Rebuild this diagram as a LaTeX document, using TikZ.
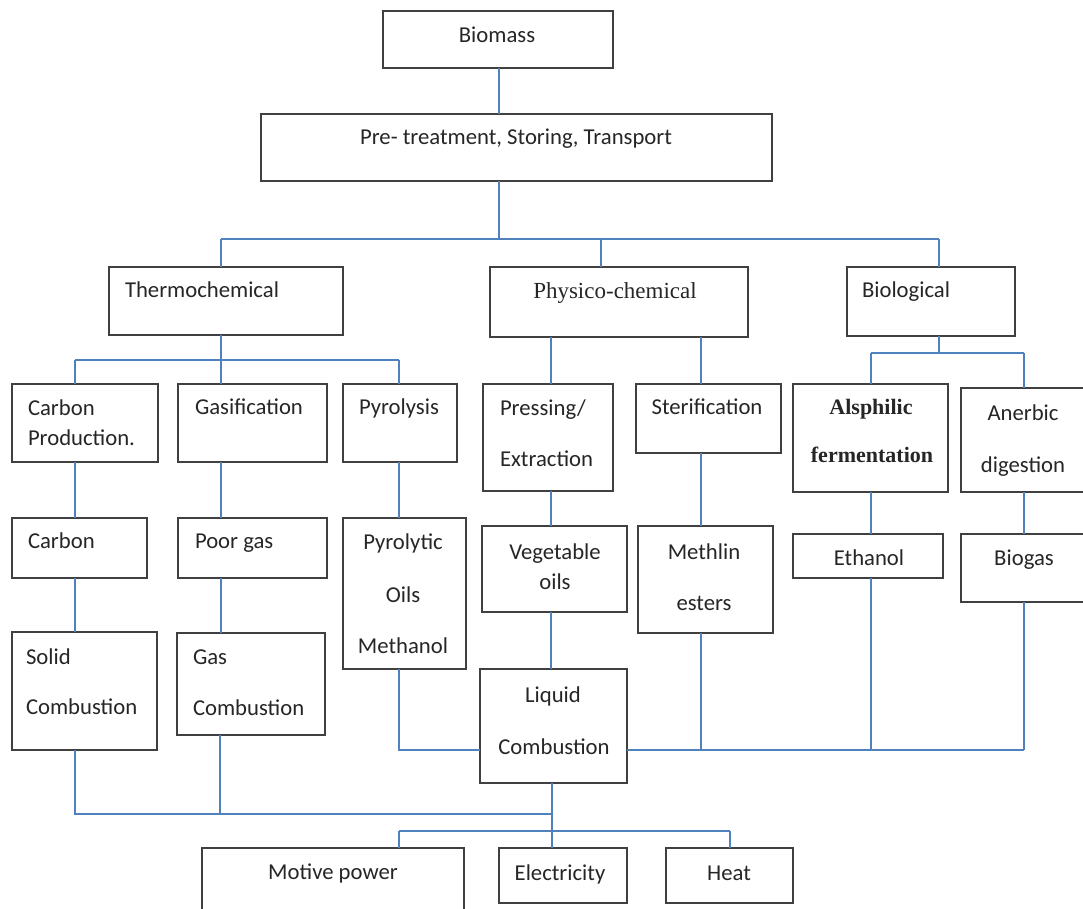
\documentclass[tikz,border=0pt]{standalone}
\usepackage{fontspec}
\setmainfont{Carlito}
\newfontfamily\tnr{Liberation Serif}
\usetikzlibrary{fit}
\definecolor{conn}{RGB}{79,129,189}
\definecolor{boxc}{RGB}{64,64,64}
\definecolor{txtc}{RGB}{38,38,38}
\tikzset{
  box/.style={draw=boxc, line width=1.6pt, inner sep=0pt, outer sep=0pt, fill=white},
  txt/.style={inner sep=0pt, outer sep=0pt, text=txtc, font=\fontsize{22.7}{27}\selectfont},
  ser/.style={inner sep=0pt, outer sep=0pt, text=txtc, font=\fontsize{23}{27}\selectfont\tnr},
  serb/.style={inner sep=0pt, outer sep=0pt, text=txtc, font=\fontsize{22}{27}\selectfont\tnr\bfseries},
  link/.style={draw=conn, line width=1.5pt},
}
\begin{document}
\begin{tikzpicture}[x=1pt,y=-1pt]
\clip (0,0) rectangle (1083,909);
\fill[white] (0,0) rectangle (1083,909);
% boxes
\node[box, fit={(383,11) (613,68)}] (bio) {};
\node[box, fit={(261,114) (772,181)}] (pre) {};
\node[box, fit={(109,267) (343,335)}] (thermo) {};
\node[box, fit={(490,267) (748,337)}] (phys) {};
\node[box, fit={(847,267) (1015,336)}] (biol) {};
\node[box, fit={(12,384) (158,462)}] (carbprod) {};
\node[box, fit={(178,384) (327,462)}] (gasif) {};
\node[box, fit={(343,384) (457,462)}] (pyro) {};
\node[box, fit={(483,384) (613,491)}] (press) {};
\node[box, fit={(636,384) (781,453)}] (ster) {};
\node[box, fit={(793,384) (948,492)}] (alsph) {};
\node[box, fit={(961,388) (1095,492)}] (anerb) {};
\node[box, fit={(12,518) (147,578)}] (carbon) {};
\node[box, fit={(178,518) (327,578)}] (poorgas) {};
\node[box, fit={(343,518) (466,669)}] (pyrol) {};
\node[box, fit={(482,526) (627,612)}] (veg) {};
\node[box, fit={(638,526) (773,633)}] (meth) {};
\node[box, fit={(793,534) (943,578)}] (eth) {};
\node[box, fit={(961,534) (1095,602)}] (biogas) {};
\node[box, fit={(12,632) (157,750)}] (solid) {};
\node[box, fit={(177,633) (325,735)}] (gascomb) {};
\node[box, fit={(480,669) (627,783)}] (liquid) {};
\node[box, fit={(202,848) (464,930)}] (motive) {};
\node[box, fit={(499,848) (627,903)}] (elec) {};
\node[box, fit={(666,848) (793,903)}] (heat) {};
% junction coordinates
\coordinate (b1l) at (221,239);
\coordinate (b1m) at (601,239);
\coordinate (b1c) at (499,239);
\coordinate (b1r) at (939,239);
\coordinate (b2l) at (75,360);
\coordinate (b2m) at (221,360);
\coordinate (b2r) at (399,360);
\coordinate (b3l) at (871,353);
\coordinate (b3m) at (939,353);
\coordinate (b3r) at (1024,353);
\coordinate (c551) at (551,400);
\coordinate (c701) at (701,400);
\coordinate (b4a) at (399,750);
\coordinate (b4b) at (701,750);
\coordinate (b4c) at (871,750);
\coordinate (b4d) at (1024,750);
\coordinate (b5l) at (75,814);
\coordinate (b5m) at (220,814);
\coordinate (b5r) at (552,814);
\coordinate (b6l) at (399,831);
\coordinate (b6r) at (730,831);
% connectors
\draw[link] (bio.south -| b1c) -- (pre.north -| b1c);
\draw[link] (pre.south -| b1c) -- (b1c);
\draw[link] (b1l) -- (b1r);
\draw[link] (b1l) -- (thermo.north -| b1l);
\draw[link] (b1m) -- (phys.north -| b1m);
\draw[link] (b1r) -- (biol.north -| b1r);
\draw[link] (thermo.south -| b2m) -- (b2m);
\draw[link] (b2l) -- (b2r);
\draw[link] (b2l) -- (carbprod.north -| b2l);
\draw[link] (b2m) -- (gasif.north -| b2m);
\draw[link] (b2r) -- (pyro.north -| b2r);
\draw[link] (phys.south -| c551) -- (press.north -| c551);
\draw[link] (phys.south -| c701) -- (ster.north -| c701);
\draw[link] (biol.south -| b3m) -- (b3m);
\draw[link] (b3l) -- (b3r);
\draw[link] (b3l) -- (alsph.north -| b3l);
\draw[link] (b3r) -- (anerb.north -| b3r);
\draw[link] (carbprod.south -| b2l) -- (carbon.north -| b2l);
\draw[link] (gasif.south -| b2m) -- (poorgas.north -| b2m);
\draw[link] (pyro.south -| b2r) -- (pyrol.north -| b2r);
\draw[link] (press.south -| c551) -- (veg.north -| c551);
\draw[link] (ster.south -| c701) -- (meth.north -| c701);
\draw[link] (alsph.south -| b3l) -- (eth.north -| b3l);
\draw[link] (anerb.south -| b3r) -- (biogas.north -| b3r);
\draw[link] (carbon.south -| b2l) -- (solid.north -| b2l);
\draw[link] (poorgas.south -| b2m) -- (gascomb.north -| b2m);
\draw[link] (veg.south -| c551) -- (liquid.north -| c551);
\draw[link] (pyrol.south -| b4a) -- (b4a) -- (liquid.west |- b4a);
\draw[link] (liquid.east |- b4d) -- (b4d);
\draw[link] (meth.south -| b4b) -- (b4b);
\draw[link] (eth.south -| b4c) -- (b4c);
\draw[link] (biogas.south -| b4d) -- (b4d);
\draw[link] (solid.south -| b5l) -- (b5l) -- (b5r);
\draw[link] (gascomb.south -| b5m) -- (b5m);
\draw[link] (liquid.south -| b5r) -- (elec.north -| b5r);
\draw[link] (b6l) -- (b6r);
\draw[link] (b6l) -- (motive.north -| b6l);
\draw[link] (b6r) -- (heat.north -| b6r);
% texts
\node[txt, anchor=base] (t1) at (497,43) {Biomass};
\node[txt, anchor=base] (t2) at (516,145) {Pre- treatment, Storing, Transport};
\node[txt, anchor=base west] (t3) at (125,297) {Thermochemical};
\node[ser, anchor=base] (t4) at (615,298) {Physico-chemical};
\node[txt, anchor=base west] (t5) at (862,297) {Biological};
\node[txt, anchor=base west] (t6) at (28,415) {Carbon};
\node[txt, anchor=base west] (t7) at (28,445) {Production.};
\node[txt, anchor=base west] (t8) at (195,414) {Gasification};
\node[txt, anchor=base west] (t9) at (359,414) {Pyrolysis};
\node[txt, anchor=base west] (t10) at (500,415) {Pressing/};
\node[txt, anchor=base west] (t11) at (500,466) {Extraction};
\node[txt, anchor=base] (t12) at (707,414) {Sterification};
\node[serb, anchor=base] (t13) at (871,414) {Alsphilic};
\node[serb, anchor=base] (t14) at (872,462) {fermentation};
\node[txt, anchor=base] (t15) at (1023,420) {Anerbic};
\node[txt, anchor=base] (t16) at (1023,472) {digestion};
\node[txt, anchor=base west] (t17) at (28,548) {Carbon};
\node[txt, anchor=base west] (t18) at (195,548) {Poor gas};
\node[txt, anchor=base] (t19) at (403,549) {Pyrolytic};
\node[txt, anchor=base] (t20) at (403,602) {Oils};
\node[txt, anchor=base] (t21) at (403,653) {Methanol};
\node[txt, anchor=base] (t22) at (555,559) {Vegetable};
\node[txt, anchor=base] (t23) at (555,589) {oils};
\node[txt, anchor=base] (t24) at (704,559) {Methlin};
\node[txt, anchor=base] (t25) at (704,610) {esters};
\node[txt, anchor=base] (t26) at (869,565) {Ethanol};
\node[txt, anchor=base] (t27) at (1024,565) {Biogas};
\node[txt, anchor=base west] (t28) at (26,664) {Solid};
\node[txt, anchor=base west] (t29) at (26,714) {Combustion};
\node[txt, anchor=base west] (t30) at (193,664) {Gas};
\node[txt, anchor=base west] (t31) at (193,715) {Combustion};
\node[txt, anchor=base] (t32) at (553,702) {Liquid};
\node[txt, anchor=base] (t33) at (554,754) {Combustion};
\node[txt, anchor=base] (t34) at (333,879) {Motive power};
\node[txt, anchor=base] (t35) at (560,880) {Electricity};
\node[txt, anchor=base] (t36) at (729,880) {Heat};
\end{tikzpicture}
\end{document}
